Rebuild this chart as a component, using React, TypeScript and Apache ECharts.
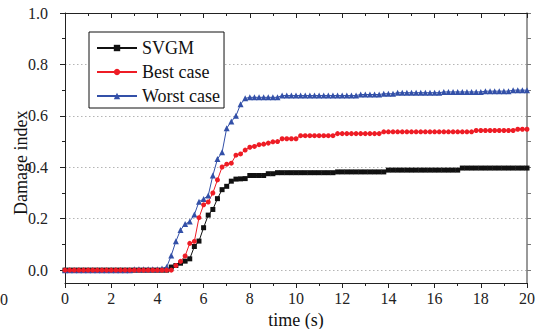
import React, { useEffect, useRef } from "react";
import * as echarts from "echarts";

const FONT = "Times New Roman, Liberation Serif, DejaVu Serif, serif";

const times = [
  0, 0.2, 0.4, 0.6, 0.8, 1.0, 1.2, 1.4, 1.6, 1.8,
  2.0, 2.2, 2.4, 2.6, 2.8, 3.0, 3.2, 3.4, 3.6, 3.8,
  4.0, 4.2, 4.4, 4.6, 4.8, 5.0, 5.2, 5.4, 5.6, 5.8,
  6.0, 6.2, 6.4, 6.6, 6.8, 7.0, 7.2, 7.4, 7.6, 7.8,
  8.0, 8.2, 8.4, 8.6, 8.8, 9.0, 9.2, 9.4, 9.6, 9.8,
  10.0, 10.2, 10.4, 10.6, 10.8, 11.0, 11.2, 11.4, 11.6, 11.8,
  12.0, 12.2, 12.4, 12.6, 12.8, 13.0, 13.2, 13.4, 13.6, 13.8,
  14.0, 14.2, 14.4, 14.6, 14.8, 15.0, 15.2, 15.4, 15.6, 15.8,
  16.0, 16.2, 16.4, 16.6, 16.8, 17.0, 17.2, 17.4, 17.6, 17.8,
  18.0, 18.2, 18.4, 18.6, 18.8, 19.0, 19.2, 19.4, 19.6, 19.8,
  20.0,
];

const svgm = [
  0, 0, 0, 0, 0, 0, 0, 0, 0, 0,
  0, 0, 0, 0, 0, 0, 0, 0, 0, 0,
  0, 0, 0, 0.012, 0.018, 0.027, 0.035, 0.044, 0.092, 0.113,
  0.165, 0.214, 0.236, 0.278, 0.313, 0.326, 0.346, 0.354, 0.355, 0.356,
  0.368, 0.368, 0.368, 0.368, 0.375, 0.375, 0.379, 0.379, 0.379, 0.379,
  0.379, 0.379, 0.379, 0.379, 0.379, 0.379, 0.379, 0.379, 0.379, 0.382,
  0.382, 0.382, 0.382, 0.382, 0.382, 0.382, 0.382, 0.382, 0.382, 0.382,
  0.389, 0.389, 0.389, 0.389, 0.389, 0.389, 0.389, 0.389, 0.389, 0.389,
  0.389, 0.389, 0.389, 0.389, 0.389, 0.389, 0.397, 0.397, 0.397, 0.397,
  0.397, 0.397, 0.397, 0.397, 0.397, 0.397, 0.397, 0.397, 0.397, 0.397,
  0.397,
];

const bestCase = [
  0, 0, 0, 0, 0, 0, 0, 0, 0, 0,
  0, 0, 0, 0, 0, 0, 0, 0, 0, 0,
  0, 0, 0, 0, 0.018, 0.034, 0.055, 0.104, 0.112, 0.204,
  0.254, 0.265, 0.3, 0.351, 0.401, 0.412, 0.416, 0.447, 0.452, 0.467,
  0.478, 0.481, 0.488, 0.49, 0.494, 0.499, 0.5, 0.511, 0.511, 0.511,
  0.511, 0.523, 0.523, 0.523, 0.523, 0.523, 0.523, 0.523, 0.523, 0.531,
  0.531, 0.531, 0.531, 0.531, 0.531, 0.531, 0.531, 0.531, 0.531, 0.538,
  0.538, 0.538, 0.538, 0.538, 0.538, 0.538, 0.538, 0.538, 0.538, 0.538,
  0.538, 0.538, 0.538, 0.538, 0.538, 0.538, 0.538, 0.538, 0.538, 0.543,
  0.543, 0.543, 0.543, 0.543, 0.543, 0.543, 0.543, 0.543, 0.548, 0.548,
  0.548,
];

const worstCase = [
  0, 0, 0, 0, 0, 0, 0, 0, 0, 0,
  0, 0, 0, 0, 0, 0.003, 0.003, 0.003, 0.003, 0.003,
  0.003, 0.006, 0.012, 0.057, 0.112, 0.156, 0.179, 0.189, 0.216, 0.266,
  0.277, 0.29, 0.368, 0.432, 0.458, 0.552, 0.578, 0.6, 0.645, 0.668,
  0.672, 0.672, 0.672, 0.672, 0.672, 0.672, 0.672, 0.679, 0.679, 0.679,
  0.679, 0.679, 0.679, 0.679, 0.679, 0.679, 0.679, 0.679, 0.679, 0.679,
  0.679, 0.679, 0.679, 0.679, 0.683, 0.683, 0.683, 0.683, 0.683, 0.686,
  0.686, 0.686, 0.69, 0.69, 0.69, 0.69, 0.69, 0.69, 0.69, 0.69,
  0.69, 0.69, 0.693, 0.693, 0.693, 0.693, 0.693, 0.693, 0.693, 0.693,
  0.693, 0.696, 0.696, 0.696, 0.696, 0.696, 0.696, 0.7, 0.7, 0.7,
  0.7,
];

const yMajorTicks = [0, 0.2, 0.4, 0.6, 0.8, 1.0];
const yMinorTicks = [0.1, 0.3, 0.5, 0.7, 0.9];
const yRightTicks = [0, 0.1, 0.2, 0.3, 0.4, 0.5, 0.6, 0.7, 0.8, 0.9, 1.0];

const seriesNames = ["SVGM", "Best case", "Worst case"];

export default function App() {
  const ref = useRef<HTMLDivElement>(null);

  useEffect(() => {
    if (!ref.current) return;
    const chart = echarts.init(ref.current, undefined, { renderer: "svg" });

    const pairs = (vals: number[]) => times.map((t, i) => [t, vals[i]]);
    const axisColor = "#222";

    const xCommon = {
      type: "value",
      min: 0,
      max: 20,
      interval: 2,
      axisLine: { show: true, onZero: false, lineStyle: { color: axisColor, width: 1 } },
      splitLine: { show: false },
      minorTick: { show: true, splitNumber: 2, length: 3, lineStyle: { color: axisColor } },
    };

    chart.setOption({
      animation: false,
      backgroundColor: "#fff",
      textStyle: { fontFamily: FONT },
      grid: {
        left: 65,
        top: 13,
        right: 11,
        bottom: 46,
        containLabel: false,
        outerBoundsMode: "none",
      },
      legend: {
        data: seriesNames,
        orient: "vertical",
        left: 89,
        top: 32,
        itemWidth: 40,
        itemHeight: 8,
        itemGap: 6,
        padding: [7, 4, 3, 7],
        borderColor: "#111",
        borderWidth: 1,
        borderRadius: 0,
        backgroundColor: "#fff",
        textStyle: { fontFamily: FONT, fontSize: 18, color: "#111" },
      },
      xAxis: [
        {
          ...xCommon,
          position: "bottom",
          axisTick: { show: true, inside: false, length: 5, lineStyle: { color: axisColor } },
          axisLabel: { show: true, fontFamily: FONT, fontSize: 16, color: "#222", margin: 7 },
          name: "time (s)",
          nameLocation: "middle",
          nameGap: 18,
          nameTextStyle: { fontFamily: FONT, fontSize: 18, color: "#111" },
        },
        {
          ...xCommon,
          position: "top",
          axisTick: { show: true, inside: true, length: 5, lineStyle: { color: axisColor } },
          axisLabel: { show: false },
        },
      ],
      yAxis: [
        {
          type: "value",
          min: -0.05,
          max: 1.0,
          position: "left",
          axisLine: { show: true, onZero: false, lineStyle: { color: axisColor, width: 1 } },
          axisTick: {
            show: true,
            length: 5,
            customValues: yMajorTicks,
            lineStyle: { color: axisColor },
          },
          axisLabel: {
            show: true,
            customValues: yMajorTicks,
            formatter: (v: number) => v.toFixed(1),
            fontFamily: FONT,
            fontSize: 16,
            color: "#222",
            margin: 17,
          },
          splitLine: {
            show: true,
            lineStyle: { type: [1.5, 2.5], color: "#b5b5b5", width: 1 },
          },
        },
        {
          type: "value",
          min: -0.05,
          max: 1.0,
          position: "right",
          axisLine: { show: true, onZero: false, lineStyle: { color: "#777", width: 1.5 } },
          axisTick: {
            show: true,
            length: 4,
            customValues: yRightTicks,
            lineStyle: { color: "#777" },
          },
          axisLabel: { show: false },
          splitLine: { show: false },
        },
        {
          type: "value",
          min: -0.05,
          max: 1.0,
          position: "left",
          axisLine: { show: false, onZero: false },
          axisTick: {
            show: true,
            length: 3,
            customValues: yMinorTicks,
            lineStyle: { color: axisColor },
          },
          axisLabel: { show: false },
          splitLine: { show: false },
        },
      ],
      graphic: [
        {
          type: "text",
          x: 12,
          y: 215,
          rotation: Math.PI / 2,
          style: {
            text: "Damage index",
            fontFamily: FONT,
            fontSize: 18,
            fill: "#111",
          },
        },
        {
          type: "text",
          x: 0,
          y: 291,
          style: { text: "0", fontFamily: FONT, fontSize: 16, fill: "#222" },
        },
      ],
      series: [
        {
          name: "SVGM",
          type: "line",
          data: pairs(svgm),
          symbol: "rect",
          symbolSize: 5,
          showAllSymbol: true,
          lineStyle: { color: "#111", width: 1 },
          itemStyle: { color: "#111" },
        },
        {
          name: "Worst case",
          type: "line",
          data: pairs(worstCase),
          symbol: "triangle",
          symbolSize: 6,
          showAllSymbol: true,
          lineStyle: { color: "#3350a8", width: 1 },
          itemStyle: { color: "#3350a8" },
        },
        {
          name: "Best case",
          type: "line",
          data: pairs(bestCase),
          symbol: "circle",
          symbolSize: 5,
          showAllSymbol: true,
          lineStyle: { color: "#ee1c25", width: 1 },
          itemStyle: { color: "#ee1c25" },
        },
      ],
    });

    return () => chart.dispose();
  }, []);

  return (
    <div
      ref={ref}
      style={{ position: "fixed", left: 0, top: 0, width: 538, height: 329 }}
    />
  );
}
